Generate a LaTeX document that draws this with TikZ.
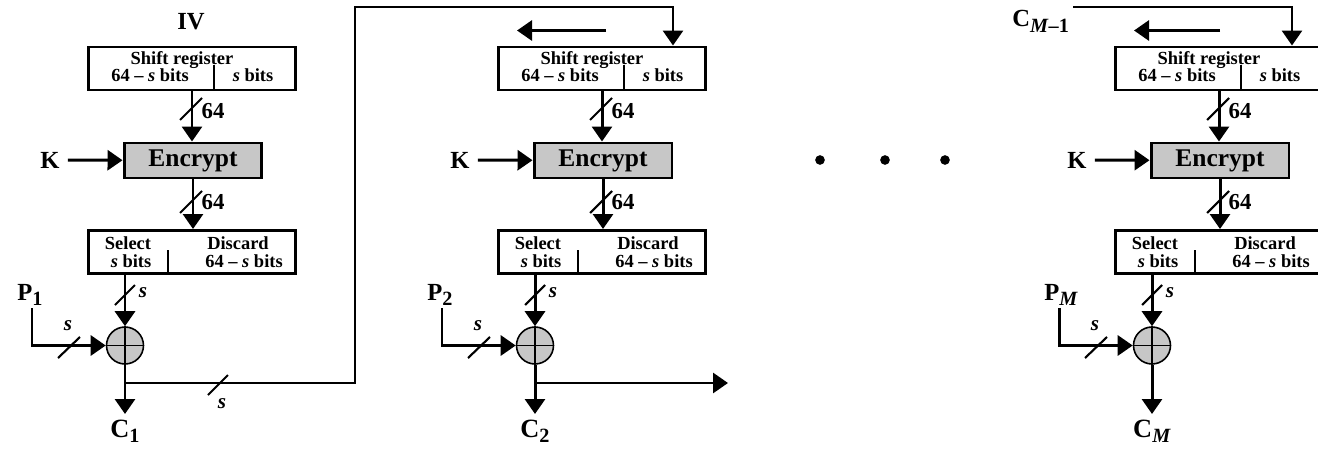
\documentclass[tikz,border=0pt]{standalone}
\usepackage{fontspec}
\setmainfont{Liberation Serif}
\usepackage{tikz}
\usetikzlibrary{arrows.meta,positioning}
\definecolor{encgray}{gray}{0.78}
\newcommand{\lowidx}[1]{\raisebox{-0.45ex}{\fontsize{11.5}{12}\selectfont #1}}

\begin{document}
\begin{tikzpicture}[
  x=0.02cm, y=-0.02cm,
  reg/.style={draw, rectangle, line width=1.7pt, minimum width=4.16cm, minimum height=0.86cm},
  enc/.style={draw, rectangle, line width=1.7pt, fill=encgray, minimum width=2.76cm, minimum height=0.7cm, font=\fontsize{14.5}{16}\selectfont\bfseries},
  small/.style={inner sep=0pt, font=\fontsize{10.5}{11}\selectfont\bfseries},
  big/.style={inner sep=0pt, font=\fontsize{14}{16}\selectfont\bfseries},
  num/.style={inner sep=0pt, font=\fontsize{13}{15}\selectfont\bfseries},
  slab/.style={inner sep=0pt, font=\fontsize{12}{14}\selectfont\bfseries\itshape},
  xorc/.style={draw, circle, line width=0.9pt, fill=encgray, minimum size=0.74cm, inner sep=0pt},
  dotnode/.style={circle, fill, minimum size=5.5pt, inner sep=0pt},
  arrow/.style={-{Triangle[length=0.3cm, width=0.4cm]}, line width=1.7pt},
  slash/.style={line width=1.2pt}
]
\useasboundingbox (0,0) rectangle (1318,456);
\clip (0,0) rectangle (1318,456);

% one stage per column
\foreach \i/\L/\idx in {1/88/1, 2/498/2, 3/1115/\textit{M}} {
  % shift register
  \node[reg] (sr\i) at (\L+104,68.5) {};
  \node[small] at (\L+94,60) {Shift register};
  \node[small] at (\L+62,75) {64 -- \textit{s} bits};
  \node[small] at (\L+165,75) {\textit{s} bits};
  \draw[line width=0.8pt] (\L+126,65) -- (\L+126,90);
  % encrypt with key
  \node[enc] (enc\i) at (\L+105,160.5) {Encrypt};
  \node[big, inner sep=4.5pt] (k\i) at (\L-38,160) {K};
  \draw[arrow] (k\i) -- (enc\i);
  \draw[arrow] (sr\i.south) -- (sr\i.south |- enc\i.north);
  \draw[slash] (\L+92,120) -- (\L+114,98);
  \node[num] at (\L+125,111) {64};
  % select / discard
  \node[reg] (sel\i) at (\L+104,252) {};
  \node[small] at (\L+40,243) {Select};
  \node[small] at (\L+43,261) {\textit{s} bits};
  \node[small] at (\L+150,243) {Discard};
  \node[small] at (\L+156,261) {64 -- \textit{s} bits};
  \draw[line width=0.8pt] (\L+80,250) -- (\L+80,273);
  \draw[arrow] (enc\i.south) -- (enc\i.south |- sel\i.north);
  \draw[slash] (\L+92,213) -- (\L+114,191);
  \node[num] at (\L+125,202) {64};
  % xor with plaintext
  \node[xorc] (x\i) at (\L+37,345.5) {};
  \draw[line width=0.9pt] (x\i.north) -- (x\i.south) (x\i.west) -- (x\i.east);
  \draw[arrow] (sel\i.south -| x\i) -- (x\i.north);
  \draw[slash] (\L+27,305) -- (\L+47,285);
  \node[slab] at (\L+55,293) {s};
  \node[big, anchor=base west] (p\i) at (\L-71,300) {P\lowidx{\idx}};
  \coordinate (pin\i) at (\L-56,308);
  \draw[arrow] (pin\i) |- (x\i.west);
  \draw[slash] (\L-30,358) -- (\L-8,337);
  \node[slab] at (\L-20,326) {s};
  % ciphertext out
  \node[big, anchor=north, inner sep=3pt, font=\fontsize{15}{17}\selectfont\bfseries] (c\i) at (\L+37,414) {C\lowidx{\idx}};
  \draw[arrow] (x\i.south) -- (c\i.north);
  \coordinate (br\i) at (\L+37,383);
}

\node[big] (iv) at (191,22) {IV};

% feedback of C1 into the second register
\coordinate (fb) at (355,7);
\draw[arrow] (br1) -| (fb) -| ([xshift=1.42cm]sr2.north);
\draw[slash] (208,395) -- (228,375);
\node[slab] at (222,404) {s};
\coordinate (out2) at (728,383);
\draw[arrow] (br2) -- (out2);

% shift direction
\draw[arrow] ([shift={(0.08cm,0.3cm)}]sr2.north) -- ++(-1.78cm,0);
\draw[arrow] ([shift={(0.02cm,0.3cm)}]sr3.north) -- ++(-1.72cm,0);

% last stage input
\node[big, anchor=base west] (cm) at (1012,27) {C\lowidx{\textit{M}--1}};
\coordinate (cin) at (1073,7);
\draw[arrow] (cin) -| ([xshift=1.46cm]sr3.north);

\node[dotnode] (d1) at (820,160) {};
\node[dotnode] (d2) at (885,160) {};
\node[dotnode] (d3) at (945,160) {};
\end{tikzpicture}
\end{document}
